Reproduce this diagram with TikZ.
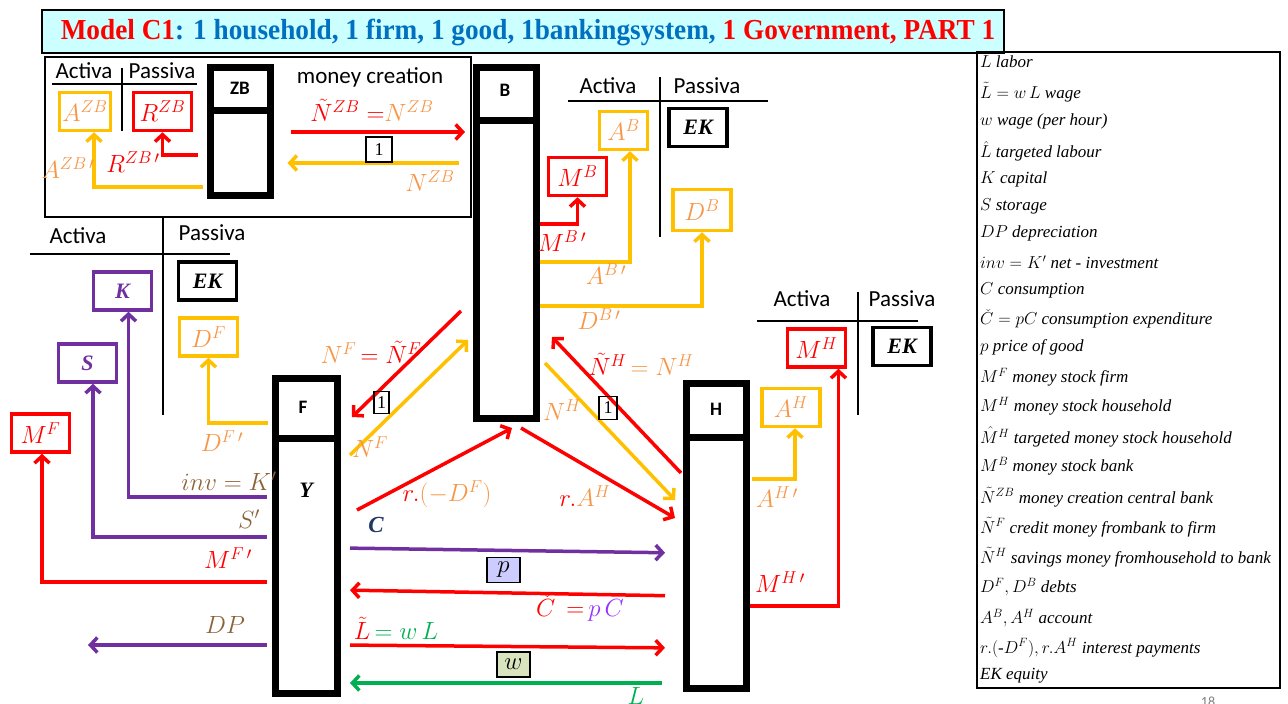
\documentclass[tikz,border=0pt]{standalone}
\usepackage{fontspec}
\setmainfont{Liberation Serif}
\newfontfamily\calfont{Carlito}
\usetikzlibrary{arrows.meta}

\definecolor{orline}{HTML}{FFC000}
\definecolor{ortext}{HTML}{F79646}
\definecolor{rd}{HTML}{FF0000}
\definecolor{purp}{HTML}{7030A0}
\definecolor{brn}{HTML}{8C6239}
\definecolor{grn}{HTML}{00B050}
\definecolor{navy}{HTML}{1F3864}
\definecolor{ttlblue}{HTML}{0070C0}
\definecolor{ttlfill}{HTML}{CCFFFF}
\definecolor{violet2}{HTML}{9933FF}
\definecolor{pfill}{HTML}{CCCCFF}
\definecolor{wfill}{HTML}{D7E4BD}

\tikzset{
  entity/.style={draw=black, line width=7pt, minimum width=60pt, inner sep=0pt},
  acc/.style={draw=#1, line width=3.5pt, minimum width=58pt, minimum height=38pt, inner sep=0pt, font=\fontsize{25}{27}\selectfont},
  word/.style={font=\fontsize{22}{24}\selectfont},
  flow/.style={line width=3.5pt, -{Straight Barb[length=7pt,width=15pt]}},
  hd/.style={font=\calfont\bfseries\fontsize{19}{20}\selectfont, inner sep=0pt},
  side/.style={font=\calfont\fontsize{23}{26}\selectfont, inner sep=0pt},
  lbl/.style={font=\fontsize{25}{27}\selectfont, inner sep=0pt},
  sheet/.style={line width=1.3pt},
  unit/.style={draw, line width=1.5pt, inner sep=0pt, font=\fontsize{18}{18}\selectfont},
  tag/.style={draw, line width=1.8pt, inner sep=0pt, minimum width=33pt, minimum height=25pt, font=\fontsize{25}{25}\selectfont},
  key/.style={font=\itshape\fontsize{17}{19}\selectfont, anchor=west, inner sep=0pt},
}

\begin{document}
\begin{tikzpicture}[x=1pt,y=-1pt]
\useasboundingbox (0,0) rectangle (1288,704);

% ---------- title bar ----------
\node[draw=black, line width=1.5pt, fill=ttlfill, minimum width=962pt, minimum height=43pt, inner sep=0pt] (title) at (523,31.5) {};
\node[font=\bfseries\fontsize{29}{30}\selectfont, inner sep=0pt] (titletext) at (528,32)
  {\scalebox{0.94}[1]{\color{rd}Model C1\color{ttlblue}: 1 household, 1 firm, 1 good, 1bankingsystem, \color{rd}1 Government, PART 1}};

% ---------- central bank panel ----------
\node[draw, line width=2pt, minimum width=426pt, minimum height=160pt, inner sep=0pt] (zbpanel) at (258,137) {};

% ---------- sectors ----------
\node[entity, minimum height=128pt] (ZB) at (240,131) {};
\draw[line width=7pt] (ZB.west |- 0,110) -- (ZB.east |- 0,110);
\node[hd] (ZBname) at (240,88) {ZB};

\node[entity, minimum height=351pt] (B) at (506.5,242.5) {};
\draw[line width=7pt] (B.west |- 0,120) -- (B.east |- 0,120);
\node[hd] (Bname) at (505,90) {B};

\node[entity, minimum width=62pt, minimum height=315pt] (F) at (306.5,536) {};
\draw[line width=7pt] (F.west |- 0,438) -- (F.east |- 0,438);
\node[hd] (Fname) at (303,407) {F};
\node[lbl, font=\bfseries\itshape\fontsize{22}{24}\selectfont] (Y) at (306,490) {Y};

\node[entity, minimum height=305pt] (H) at (716.5,535.5) {};
\draw[line width=7pt] (H.west |- 0,437) -- (H.east |- 0,437);
\node[hd] (Hname) at (716,409) {H};

% ---------- balance sheet headings ----------
\node[side] (zbA) at (84,71) {Activa};
\node[side] (zbP) at (162,71) {Passiva};
\draw[sheet] (52,84) -- (197,84);
\draw[sheet] (122,68) -- (122,131);
\node[side] (zbmc) at (370,77) {money creation};

\node[side] (bA) at (608,86) {Activa};
\node[side] (bP) at (707,86) {Passiva};
\draw[sheet] (568,101) -- (768,101);
\draw[sheet] (660,77) -- (660,237);

\node[side] (fA) at (78,236) {Activa};
\node[side] (fP) at (212,233) {Passiva};
\draw[sheet] (30,254) -- (230,254);
\draw[sheet] (163,217) -- (163,415);

\node[side] (hA) at (802,299) {Activa};
\node[side] (hP) at (902,299) {Passiva};
\draw[sheet] (757,321) -- (918,321);
\draw[sheet] (858,292) -- (858,415);

% ---------- balance sheet items ----------
\node[acc=orline, minimum width=51pt] (AZB) at (85,111.5) {\color{ortext}$A^{ZB}$};
\node[acc=rd] (RZB) at (162.5,111.5) {\color{rd}$R^{ZB}$};

\node[acc=orline, minimum width=48pt] (AB) at (623.5,130.5) {\color{ortext}$A^{B}$};
\node[acc=black, word] (EKB) at (698,127.5) {\bfseries\itshape EK};
\node[acc=rd] (MB) at (577.5,176.5) {\color{rd}$M^{B}$};
\node[acc=orline, minimum height=41pt] (DB) at (702,210) {\color{ortext}$D^{B}$};

\node[acc=purp, word] (K) at (122.5,291) {\color{purp}\bfseries\itshape K};
\node[acc=purp, word] (S) at (87.5,363) {\color{purp}\bfseries\itshape S};
\node[acc=rd] (MF) at (40.5,433) {\color{rd}$M^{F}$};
\node[acc=black, word] (EKF) at (207.5,281) {\bfseries\itshape EK};
\node[acc=orline] (DF) at (208.5,337) {\color{ortext}$D^{F}$};

\node[acc=rd] (MH) at (816.5,348) {\color{rd}$M^{H}$};
\node[acc=black, word] (EKH) at (902,346.5) {\bfseries\itshape EK};
\node[acc=orline] (AH) at (791,407.5) {\color{ortext}$A^{H}$};

% ---------- central bank flows ----------
\draw[flow,rd,shorten <=17pt,shorten >=8pt] (ZB.east |- 0,132) -- (B.west |- 0,132);
\draw[flow,orline,shorten <=14pt,shorten >=14pt] (B.west |- 0,163) -- (ZB.east |- 0,163);
\node[unit, minimum width=26pt, minimum height=25pt] (one1) at (379,149.5) {1};
\node[lbl] (nzb1) at (372,110) {\color{rd}$\tilde N^{ZB}=$\color{ortext}$N^{ZB}$};
\node[lbl] (nzb2) at (430,181) {\color{ortext}$N^{ZB}$};
\draw[flow,rd,shorten <=9pt] (ZB.west |- 0,155) -| (RZB.south);
\draw[flow,orline,shorten <=4pt] (ZB.west |- 0,187) -| ([xshift=9pt]AZB.south);
\node[lbl] (rzbp) at (133,162) {\color{rd}$R^{ZB\,\prime}$};
\node[lbl] (azbp) at (68,168) {\color{ortext}$A^{ZB\,\prime}$};

% ---------- bank flows ----------
\draw[flow,rd] (B.east |- 0,224) -| (MB.south);
\draw[flow,orline] (B.east |- 0,262) -| ([xshift=6.5pt]AB.south);
\draw[flow,orline] (B.east |- 0,306) -| (DB.south);
\node[lbl] (mbp) at (562,241) {\color{rd}$M^{B\,\prime}$};
\node[lbl] (abp) at (606,274) {\color{ortext}$A^{B\,\prime}$};
\node[lbl] (dbp) at (599,319) {\color{ortext}$D^{B\,\prime}$};

% ---------- firm flows ----------
\draw[flow,orline,shorten <=4pt] (F.west |- 0,423) -| (DF.south);
\draw[flow,purp,shorten <=5pt] (F.west |- 0,497) -| ([xshift=6pt]K.south);
\draw[flow,purp,shorten <=5pt] (F.west |- 0,537) -| ([xshift=5.5pt]S.south);
\draw[flow,rd,shorten <=5pt] (F.west |- 0,582) -| ([xshift=1.5pt]MF.south);
\coordinate (dpend) at (88,645);
\draw[flow,purp,shorten <=5pt] (F.west |- dpend) -- (dpend);
\node[lbl] (dfp) at (222,441) {\color{ortext}$D^{F\,\prime}$};
\node[lbl, font=\fontsize{23}{25}\selectfont] (invk) at (229,481) {\color{brn}$inv=K'$};
\node[lbl] (sp) at (249,519) {\color{brn}$S'$};
\node[lbl] (mfp) at (228,558) {\color{rd}$M^{F\,\prime}$};
\node[lbl] (dp) at (225,625) {\color{brn}$DP$};

% ---------- bank <-> firm ----------
\coordinate (bfa) at (461,311);
\coordinate (bfb) at (352,417);
\draw[flow,rd] (bfa) -- (bfb);
\coordinate (fba) at (350,455);
\coordinate (fbb) at (468,340);
\draw[flow,orline] (fba) -- (fbb);
\node[unit, minimum width=15pt, minimum height=22pt] (one2) at (381.5,402.5) {1};
\node[lbl] (nf1) at (371,352) {\color{ortext}$N^{F}$\color{rd}$\,=\tilde N^{F}$};
\node[lbl] (nf2) at (370,447) {\color{ortext}$N^{F}$};
\coordinate (ira) at (357,510);
\coordinate (irb) at (512,428);
\draw[flow,rd] (ira) -- (irb);
\node[lbl] (rdf) at (447,494) {\color{rd}$r.$\color{ortext}$(-D^{F})$};

% ---------- bank <-> household ----------
\coordinate (hba) at (681,473);
\coordinate (hbb) at (552,337);
\draw[flow,rd] (hba) -- (hbb);
\coordinate (bha) at (545,363);
\coordinate (bhb) at (675,500);
\draw[flow,orline] (bha) -- (bhb);
\node[unit, minimum width=18pt, minimum height=23pt] (one3) at (608,408) {1};
\node[lbl] (nh1) at (641,364) {\color{rd}$\tilde N^{H}$\color{ortext}$\,=N^{H}$};
\node[lbl] (nh2) at (562,410) {\color{ortext}$N^{H}$};
\coordinate (rha) at (521,428);
\coordinate (rhb) at (675,518);
\draw[flow,rd] (rha) -- (rhb);
\node[lbl] (rah) at (585,496) {\color{rd}$r.$\color{ortext}$A^{H}$};

% ---------- household flows ----------
\draw[flow,orline,shorten <=2pt] (H.east |- 0,479) -| ([xshift=4pt]AH.south);
\draw[flow,rd] (H.east |- 0,606) -| ([xshift=22pt]MH.south);
\node[lbl] (ahp) at (777,497) {\color{ortext}$A^{H\,\prime}$};
\node[lbl] (mhp) at (780,582) {\color{rd}$M^{H\,\prime}$};

% ---------- goods and labour market ----------
\draw[flow,purp,shorten <=9pt,shorten >=18pt] (F.east |- 0,548) -- (H.west |- 0,553);
\draw[flow,rd,shorten <=18pt,shorten >=9pt] (H.west |- 0,596) -- (F.east |- 0,590);
\draw[flow,rd,shorten <=9pt,shorten >=18pt] (F.east |- 0,645) -- (H.west |- 0,648);
\draw[flow,grn,shorten <=21pt,shorten >=9pt] (H.west |- 0,683) -- (F.east |- 0,683);
\node[lbl, text=navy, font=\bfseries\itshape\fontsize{23}{25}\selectfont] (cl) at (376,525) {C};
\node[tag, fill=pfill] (ptag) at (503.5,570) {$p$};
\node[lbl] (cc) at (580,608) {\color{rd}$\check C\,=\,$\color{violet2}$p\,C$};
\node[lbl] (lw) at (396,628) {\color{rd}$\tilde L$\color{grn}$\,=w\,L$};
\node[tag, fill=wfill] (wtag) at (513.5,664.5) {$w$};
\node[lbl, anchor=north] (ll) at (636,687) {\color{grn}$L$};

% ---------- symbol key ----------
\node[draw, line width=1.2pt, minimum width=303pt, minimum height=636pt, inner sep=0pt] (keybox) at (1128.5,370) {};
\node[key] (k1)  at (980,62)  {$L$ labor};
\node[key] (k2)  at (980,92)  {$\tilde L = w\,L$ wage};
\node[key] (k3)  at (980,121) {$w$ wage (per hour)};
\node[key] (k4)  at (980,151) {$\hat L$ targeted labour};
\node[key] (k5)  at (980,179) {$K$ capital};
\node[key] (k6)  at (980,206) {$S$ storage};
\node[key] (k7)  at (980,233) {$DP$ depreciation};
\node[key] (k8)  at (980,262) {$inv = K'$ net - investment};
\node[key] (k9)  at (980,290) {$C$ consumption};
\node[key] (k10) at (980,319) {$\check C = pC$ consumption expenditure};
\node[key] (k11) at (980,347) {$p$ price of good};
\node[key] (k12) at (980,377) {$M^F$ money stock firm};
\node[key] (k13) at (980,406) {$M^H$ money stock household};
\node[key] (k14) at (980,437) {$\hat M^H$ targeted money stock household};
\node[key] (k15) at (980,466) {$M^B$ money stock bank};
\node[key] (k16) at (980,497) {$\tilde N^{ZB}$ money creation central bank};
\node[key] (k17) at (980,527) {$\tilde N^F$ credit money frombank to firm};
\node[key] (k18) at (980,557) {$\tilde N^H$ savings money fromhousehold to bank};
\node[key] (k19) at (980,587) {$D^F, D^B$ debts};
\node[key] (k20) at (980,618) {$A^B, A^H$ account};
\node[key] (k21) at (980,648) {$r.(\mbox{-}D^F), r.A^H$ interest payments};
\node[key] (k22) at (980,676) {EK equity};
\node[font=\calfont\fontsize{14}{14}\selectfont, text=gray, inner sep=0pt, anchor=north] (pg) at (1208,697) {18};
\end{tikzpicture}
\end{document}
